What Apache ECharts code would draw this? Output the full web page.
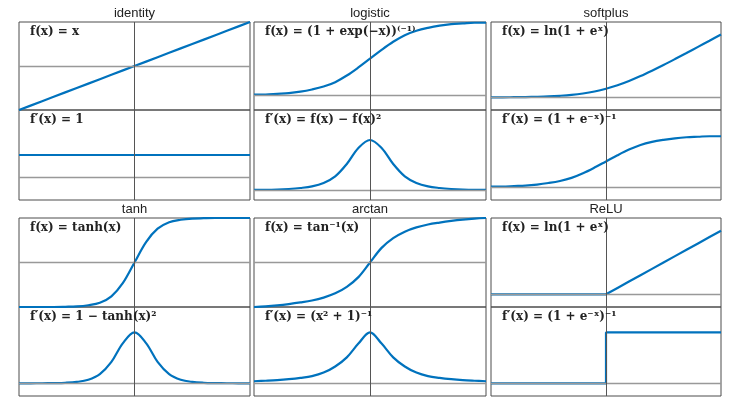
<!DOCTYPE html>
<html>
<head>
<meta charset="utf-8">
<script src="https://cdn.jsdelivr.net/npm/echarts@6/dist/echarts.min.js"></script>
<style>
  html, body { margin: 0; padding: 0; background: #fff; }
  #main { width: 739px; height: 403px; }
</style>
</head>
<body>
<div id="main"></div>
<script>
// sample positions on the x axis (all panels run from -5 to 5)
const xs = [-5, -4.5, -4, -3.5, -3, -2.5, -2, -1.5, -1, -0.5, 0, 0.5, 1, 1.5, 2, 2.5, 3, 3.5, 4, 4.5, 5];

const identityF = [-5, -4.5, -4, -3.5, -3, -2.5, -2, -1.5, -1, -0.5, 0, 0.5, 1, 1.5, 2, 2.5, 3, 3.5, 4, 4.5, 5];
const identityD = [1, 1, 1, 1, 1, 1, 1, 1, 1, 1, 1, 1, 1, 1, 1, 1, 1, 1, 1, 1, 1];

const logisticF = [0.01, 0.01, 0.02, 0.03, 0.05, 0.08, 0.12, 0.18, 0.27, 0.38, 0.5, 0.62, 0.73, 0.82, 0.88, 0.92, 0.95, 0.97, 0.98, 0.99, 0.99];
const logisticD = [0.001, 0.001, 0.002, 0.005, 0.01, 0.018, 0.035, 0.068, 0.13, 0.21, 0.25, 0.21, 0.13, 0.068, 0.035, 0.018, 0.01, 0.005, 0.002, 0.001, 0.001];

const softplusF = [0.01, 0.01, 0.02, 0.03, 0.05, 0.08, 0.13, 0.2, 0.31, 0.47, 0.69, 0.97, 1.31, 1.7, 2.13, 2.58, 3.05, 3.53, 4.02, 4.51, 5.01];
const softplusD = [0.01, 0.01, 0.02, 0.03, 0.05, 0.08, 0.12, 0.18, 0.27, 0.38, 0.5, 0.62, 0.73, 0.82, 0.88, 0.92, 0.95, 0.97, 0.98, 0.99, 0.99];

const tanhF = [-1, -1, -1, -1, -0.995, -0.987, -0.96, -0.905, -0.76, -0.46, 0, 0.46, 0.76, 0.905, 0.96, 0.987, 0.995, 1, 1, 1, 1];
const tanhD = [0, 0, 0.001, 0.004, 0.01, 0.027, 0.07, 0.18, 0.42, 0.79, 1, 0.79, 0.42, 0.18, 0.07, 0.027, 0.01, 0.004, 0.001, 0, 0];

const arctanF = [-1.37, -1.35, -1.32, -1.28, -1.23, -1.17, -1.08, -0.95, -0.75, -0.45, 0, 0.45, 0.75, 0.95, 1.08, 1.17, 1.23, 1.28, 1.32, 1.35, 1.37];
const arctanD = [0.04, 0.05, 0.062, 0.08, 0.105, 0.14, 0.21, 0.33, 0.51, 0.78, 1, 0.78, 0.51, 0.33, 0.21, 0.14, 0.105, 0.08, 0.062, 0.05, 0.04];

const reluF = [0, 0, 0, 0, 0, 0, 0, 0, 0, 0, 0, 0.5, 1, 1.5, 2, 2.5, 3, 3.5, 4, 4.5, 5];
const reluD = [0, 0, 0, 0, 0, 0, 0, 0, 0, 0, 1, 1, 1, 1, 1, 1, 1, 1, 1, 1, 1];

const titles = ["identity", "logistic", "softplus", "tanh", "arctan", "ReLU"];
const labelsF = ["f(x) = x", "f(x) = (1 + exp(−x))⁽⁻¹⁾", "f(x) = ln(1 + eˣ)", "f(x) = tanh(x)", "f(x) = tan⁻¹(x)", "f(x) = ln(1 + eˣ)"];
const labelsD = ["f′(x) = 1", "f′(x) = f(x) − f(x)²", "f′(x) = (1 + e⁻ˣ)⁻¹", "f′(x) = 1 − tanh(x)²", "f′(x) = (x² + 1)⁻¹", "f′(x) = (1 + e⁻ˣ)⁻¹"];

const seriesF = [identityF, logisticF, softplusF, tanhF, arctanF, reluF];
const seriesD = [identityD, logisticD, softplusD, tanhD, arctanD, reluD];
const rangeF = [[-5, 5], [-0.2, 1], [-1, 6], [-1, 1], [-1.37, 1.37], [-1, 6]];
const rangeD = [[-1, 3], [-0.05, 0.4], [-0.25, 1.5], [-0.25, 1.5], [-0.25, 1.5], [-0.25, 1.5]];

const colLeft = [19, 254, 491];
const colWidth = [231, 232, 230];
const rowTop = [22, 218];
const subHeight = [[88, 90], [89, 89]];
const blue = "#0072BD";

const myChart = echarts.init(document.getElementById("main"));

let grid = [], xAxis = [], yAxis = [], series = [], title = [], graphic = [];

for (let p = 0; p < 6; p++) {
  const c = p % 3, r = Math.floor(p / 3);
  title.push({
    text: titles[p],
    left: colLeft[c] + colWidth[c] / 2,
    top: rowTop[r] - 15,
    padding: 0,
    textAlign: "center",
    textStyle: { fontFamily: "Liberation Sans", fontSize: 13, fontWeight: "normal", color: "#222" }
  });
  for (let s = 0; s < 2; s++) {
    const g = p * 2 + s;
    const top = rowTop[r] + (s === 0 ? 0 : subHeight[r][0]);
    grid.push({
      left: colLeft[c], top: top, width: colWidth[c], height: subHeight[r][s],
      show: true, borderColor: "#4d4d4d", borderWidth: 1, backgroundColor: "transparent"
    });
    xAxis.push({
      type: "value", gridIndex: g, min: -5, max: 5,
      axisLine: { show: false }, axisTick: { show: false }, axisLabel: { show: false },
      splitLine: { show: false }
    });
    const rg = s === 0 ? rangeF[p] : rangeD[p];
    yAxis.push({
      type: "value", gridIndex: g, min: rg[0], max: rg[1],
      axisLine: { show: false }, axisTick: { show: false }, axisLabel: { show: false },
      splitLine: { show: false }
    });
    // zero lines
    series.push({
      type: "line", xAxisIndex: g, yAxisIndex: g, z: 1,
      data: [[0, 0]], showSymbol: false, lineStyle: { opacity: 0 }, silent: true,
      markLine: {
        silent: true, symbol: ["none", "none"], label: { show: false },
        animation: false,
        data: [
          { yAxis: 0, lineStyle: { color: "#999", width: 1.3, type: "solid" } },
          { xAxis: 0, lineStyle: { color: "#555", width: 1, type: "solid" } }
        ]
      }
    });
    const vals = s === 0 ? seriesF[p] : seriesD[p];
    const isRelu = p === 5;
    series.push({
      type: "line", xAxisIndex: g, yAxisIndex: g, z: 3,
      data: xs.map((x, i) => [x, vals[i]]),
      showSymbol: false,
      smooth: isRelu || p === 0 ? false : 0.35,
      step: isRelu && s === 1 ? "end" : false,
      lineStyle: { color: blue, width: 2.2 },
      animation: false
    });
    graphic.push({
      type: "text",
      x: colLeft[c] + 11,
      y: top + 10,
      z: 10,
      style: {
        text: s === 0 ? labelsF[p] : labelsD[p],
        font: 'bold 12px "DejaVu Serif"',
        fill: "#222",
        verticalAlign: "middle"
      }
    });
  }
}

myChart.setOption({
  animation: false,
  backgroundColor: "#fff",
  title: title,
  grid: grid,
  xAxis: xAxis,
  yAxis: yAxis,
  series: series,
  graphic: graphic
});
</script>
</body>
</html>
